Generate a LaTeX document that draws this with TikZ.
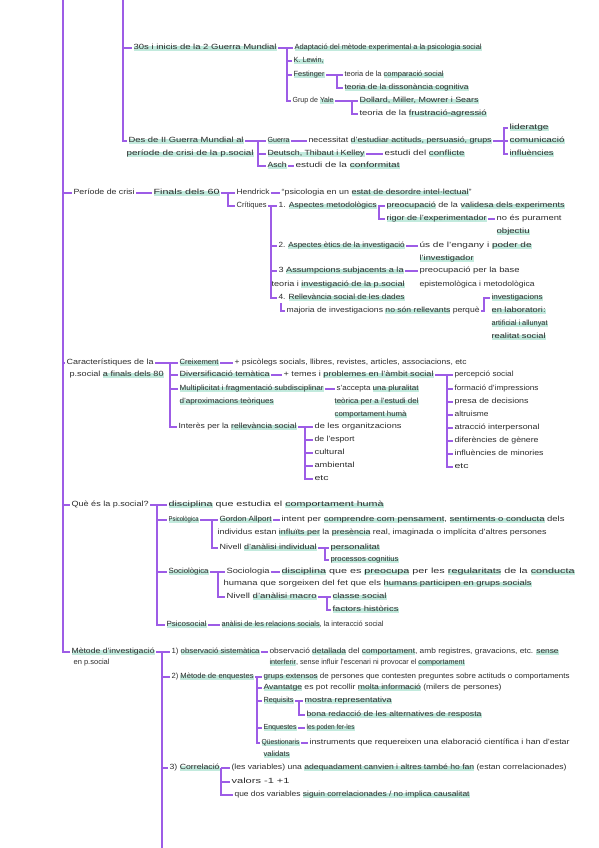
\documentclass[tikz,border=0pt]{standalone}
\usepackage{fontspec}
\setmainfont{Liberation Sans}
\usepackage{graphicx}
\definecolor{lp}{RGB}{157,92,230}
\definecolor{mint}{RGB}{194,234,221}
\definecolor{ink}{RGB}{45,45,45}
\newcommand\hl[1]{\setbox0\hbox{#1}\rlap{\textcolor{mint}{\rule[-1pt]{\wd0}{5pt}}}\box0\relax}
\newcommand\fw[2]{\setbox2\hbox{#2}\pgfmathsetmacro\rx{#1/\wd2}\pgfmathsetmacro\ry{min(1,\rx^0.3)}\scalebox{\rx}[\ry]{\box2}}
\tikzset{
 txt/.style={anchor=west,inner sep=0.4pt,outer sep=1.2pt,text height=5.4pt,text depth=1.6pt,font=\fontsize{7.5}{8}\selectfont,text=ink},
 ln/.style={draw=lp,line width=1.2pt},
 tr/.style={draw=lp,line width=1.5pt}
}
\newcommand\N[5]{\node[txt] (#1) at (#2,#3) {\fw{#4}{#5}};}
\begin{document}
\begin{tikzpicture}[x=1pt,y=-1pt]
\useasboundingbox[fill=white] (0,0) rectangle (599,848);
% ---------- section A ----------
\N{A1}{132}{48}{143}{\hl{30s i inicis de la 2 Guerra Mundial}}
\N{A11}{293}{48}{187}{\hl{Adaptació del mètode experimental a la psicologia social}}
\N{A12}{292}{61}{30}{\hl{K. Lewin,}}
\N{A13}{292}{75}{31}{\hl{Festinger}}
\N{A131}{343}{75}{99}{teoria de la \hl{comparació social}}
\N{A132}{343}{88}{124}{\hl{teoria de la dissonància cognitiva}}
\N{A14}{291}{101}{41}{Grup de \hl{Yale}}
\N{A141}{358}{101}{119}{\hl{Dollard, Miller, Mowrer i Sears}}
\N{A142}{358}{114}{127}{teoria de la \hl{frustració-agressió}}
\N{A2}{127}{141}{115}{\hl{Des de II Guerra Mundial al}}
\N{A2b}{125}{154}{127}{\hl{període de crisi de la p.social}}
\N{A21}{266}{141}{22}{\hl{Guerra}}
\N{A21a}{307}{141}{183}{necessitat \hl{d'estudiar actituds, persuasió, grups}}
\N{L1}{508}{128}{39}{\hl{lideratge}}
\N{L2}{508}{141}{55}{\hl{comunicació}}
\N{L3}{508}{154}{44}{\hl{influències}}
\N{A22}{266}{154}{97}{\hl{Deutsch, Thibaut i Kelley}}
\N{A22a}{383}{154}{80}{estudi del \hl{conflicte}}
\N{A23}{266}{166}{19}{\hl{Asch}}
\N{A23a}{294}{166}{104}{estudi de la \hl{conformitat}}
% ---------- section B ----------
\N{B}{72}{193}{61}{Període de crisi}
\N{B1}{152}{193}{66}{\hl{Finals dels 60}}
\N{B11}{235}{193}{33}{Hendrick}
\N{B11a}{280}{193}{190}{“psicologia en un \hl{estat de desordre intel·lectual}”}
\N{B12}{235}{206}{30}{Crítiques}
\N{B121}{277}{206}{98}{1. \hl{Aspectes metodològics}}
\N{B121a}{385}{206}{178}{\hl{preocupació} de la \hl{validesa dels experiments}}
\N{B121b}{385}{219}{100}{\hl{rigor de l'experimentador}}
\N{B121c}{495}{219}{65}{no és purament}
\N{B121d}{495}{232}{33}{\hl{objectiu}}
\N{B122}{277}{246}{126}{2. \hl{Aspectes ètics de la investigació}}
\N{B122a}{418}{246}{112}{ús de l'engany i \hl{poder de}}
\N{B122b}{418}{259}{54}{\hl{l'investigador}}
\N{B123}{277}{271}{125}{3 \hl{Assumpcions subjacents a la}}
\N{B123b}{270}{285}{133}{teoria i \hl{investigació de la p.social}}
\N{B123a}{418}{271}{100}{preocupació per la base}
\N{B123c}{418}{285}{115}{epistemològica i metodològica}
\N{B124}{277}{298}{126}{4. \hl{Rellevància social de les dades}}
\N{B124a}{285}{311}{193}{majoria de investigacions \hl{no són rellevants} perquè}
\N{B124b}{490}{298}{51}{\hl{investigacions}}
\N{B124c}{490}{311}{54}{\hl{en laboratori:}}
\N{B124d}{490}{324}{56}{\hl{artificial i allunyat}}
\N{B124e}{490}{337}{54}{\hl{realitat social}}
% ---------- section C ----------
\N{C}{65}{363}{87}{Característiques de la}
\N{C2l}{68}{375}{94}{p.social \hl{a finals dels 80}}
\N{C1}{178}{363}{39}{\hl{Creixement}}
\N{C1a}{233}{363}{232}{+ psicòlegs socials, llibres, revistes, articles, associacions, etc}
\N{C2}{178}{375}{90}{\hl{Diversificació temàtica}}
\N{C2a}{282}{375}{150}{+ temes i \hl{problemes en l'àmbit social}}
\N{P1}{453}{375}{59}{percepció social}
\N{P2}{453}{389}{84}{formació d'impressions}
\N{P3}{453}{402}{74}{presa de decisions}
\N{P4}{453}{415}{34}{altruisme}
\N{P5}{453}{428}{85}{atracció interpersonal}
\N{P6}{453}{441}{84}{diferències de gènere}
\N{P7}{453}{454}{89}{influències de minories}
\N{P8}{453}{467}{14}{etc}
\N{C3}{178}{389}{144}{\hl{Multiplicitat i fragmentació subdisciplinar}}
\N{C3b}{178}{402}{94}{\hl{d'aproximacions teòriques}}
\N{C3a}{335}{389}{82}{s'accepta \hl{una pluralitat}}
\N{C3c}{333}{402}{84}{\hl{teòrica per a l'estudi del}}
\N{C3d}{333}{415}{72}{\hl{comportament humà}}
\N{C4}{177}{427}{118}{Interès per la \hl{rellevància social}}
\N{Q1}{313}{427}{87}{de les organitzacions}
\N{Q2}{313}{440}{40}{de l'esport}
\N{Q3}{313}{453}{30}{cultural}
\N{Q4}{313}{466}{40}{ambiental}
\N{Q5}{313}{479}{14}{etc}
% ---------- section D ----------
\N{D}{70}{505}{77}{Què és la p.social?}
\N{D1}{167}{505}{215}{\hl{disciplina} que estudia el \hl{comportament humà}}
\N{D2}{167}{520}{30}{\hl{Psicològica}}
\N{D21}{218}{520}{52}{\hl{Gordon Allport}}
\N{D21a}{280}{520}{283}{intent per \hl{comprendre com pensament}, \hl{sentiments o conducta} dels}
\N{D21b}{216}{533}{329}{individus estan \hl{influïts per} la \hl{presència} real, imaginada o implícita d'altres persones}
\N{D22}{218}{548}{97}{Nivell \hl{d'anàlisi individual}}
\N{R1}{329}{548}{49}{\hl{personalitat}}
\N{R2}{329}{560}{68}{\hl{processos cognitius}}
\N{D3}{167}{572}{40}{\hl{Sociològica}}
\N{D31}{225}{572}{43}{Sociologia}
\N{D31a}{280}{572}{293}{\hl{disciplina} que es \hl{preocupa} per les \hl{regularitats} de la \hl{conducta}}
\N{D31b}{222}{584}{308}{humana que sorgeixen del fet que els \hl{humans participen en grups socials}}
\N{D32}{225}{597}{90}{Nivell \hl{d'anàlisi macro}}
\N{S1}{331}{597}{54}{\hl{classe social}}
\N{S2}{331}{610}{66}{\hl{factors històrics}}
\N{D4}{165}{625}{40}{\hl{Psicosocial}}
\N{D4a}{220}{625}{162}{\hl{anàlisi de les relacions socials}, la interacció social}
% ---------- section E ----------
\N{E}{70}{652}{83}{\hl{Mètode d'investigació}}
\N{E2l}{72}{663}{36}{en p.social}
\N{E1}{170}{652}{88}{1) \hl{observació sistemàtica}}
\N{E1a}{268}{652}{289}{observació \hl{detallada} del \hl{comportament}, amb registres, gravacions, etc. \hl{sense}}
\N{E1b}{268}{663}{195}{\hl{interferir}, sense influir l'escenari ni provocar el \hl{comportament}}
\N{E2}{170}{677}{82}{2) \hl{Mètode de enquestes}}
\N{E21}{262}{677}{306}{\hl{grups extensos} de persones que contesten preguntes sobre actituds o comportaments}
\N{E22}{262}{688}{238}{\hl{Avantatge} es pot recollir \hl{molta informació} (milers de persones)}
\N{E23}{262}{701}{30}{\hl{Requisits}}
\N{U1}{303}{701}{87}{\hl{mostra representativa}}
\N{U2}{305}{715}{175}{\hl{bona redacció de les alternatives de resposta}}
\N{E24}{262}{728}{33}{\hl{Enquestes}}
\N{E24a}{305}{728}{48}{\hl{les poden fer-les}}
\N{E25}{260}{743}{38}{\hl{Qüestionaris}}
\N{E25a}{308}{743}{260}{instruments que requereixen una elaboració científica i han d'estar}
\N{E25b}{262}{755}{26}{\hl{validats}}
\N{E3}{168}{768}{50}{3) \hl{Correlació}}
\N{E31}{230}{768}{335}{(les variables) una \hl{adequadament canvien i altres també ho fan} (estan correlacionades)}
\N{E32}{230}{782}{58}{valors -1 +1}
\N{E33}{233}{795}{235}{que dos variables \hl{siguin correlacionades / no implica causalitat}}
% ---------- connectors ----------
\coordinate (T0) at (63,0);
\coordinate (S0) at (123,0);
\foreach \c in {B,C,D,E} \draw[tr] (T0) |- (\c.west);
\foreach \c in {A1,A2} \draw[tr] (S0) |- (\c.west);
% A
\coordinate (a1) at (287,48);
\draw[ln] (A1.east) -- (a1);
\foreach \c in {A11,A12,A13,A14} \draw[ln] (a1) |- (\c.west);
\coordinate (a13) at (337,75);
\draw[ln] (A13.east) -- (a13);
\foreach \c in {A131,A132} \draw[ln] (a13) |- (\c.west);
\coordinate (a14) at (352,101);
\draw[ln] (A14.east) -- (a14);
\foreach \c in {A141,A142} \draw[ln] (a14) |- (\c.west);
\coordinate (a2) at (258,141);
\draw[ln] (A2.east) -- (a2);
\foreach \c in {A21,A22,A23} \draw[ln] (a2) |- (\c.west);
\draw[ln] (A21.east) -- (A21a.west);
\coordinate (a21) at (504,141);
\draw[ln] (A21a.east) -- (a21);
\foreach \c in {L1,L2,L3} \draw[ln] (a21) |- (\c.west);
\draw[ln] (A22.east) -- (A22a.west);
\draw[ln] (A23.east) -- (A23a.west);
% B
\draw[ln] (B.east) -- (B1.west);
\coordinate (b1) at (228,193);
\draw[ln] (B1.east) -- (b1);
\foreach \c in {B11,B12} \draw[ln] (b1) |- (\c.west);
\draw[ln] (B11.east) -- (B11a.west);
\coordinate (b12) at (271,206);
\draw[ln] (B12.east) -- (b12);
\foreach \c in {B121,B122,B123,B124} \draw[ln] (b12) |- (\c.west);
\coordinate (b121) at (379,206);
\draw[ln] (B121.east) -- (b121);
\foreach \c in {B121a,B121b} \draw[ln] (b121) |- (\c.west);
\draw[ln] (B121b.east) -- (B121c.west);
\draw[ln] (B122.east) -- (B122a.west);
\draw[ln] (B123.east) -- (B123a.west);
\draw[ln] ([xshift=4pt]B124.south west) |- (B124a.west);
\coordinate (b124) at (484,298);
\draw[ln] (B124a.east) -| (b124) -- (B124b.west);
% C
\coordinate (c0) at (170,363);
\draw[ln] (C.east) -- (c0);
\foreach \c in {C1,C2,C3,C4} \draw[ln] (c0) |- (\c.west);
\draw[ln] (C1.east) -- (C1a.west);
\draw[ln] (C2.east) -- (C2a.west);
\coordinate (c2) at (447,375);
\draw[ln] (C2a.east) -- (c2);
\foreach \c in {P1,P2,P3,P4,P5,P6,P7,P8} \draw[ln] (c2) |- (\c.west);
\draw[ln] (C3.east) -- (C3a.west);
\coordinate (c4) at (305,427);
\draw[ln] (C4.east) -- (c4);
\foreach \c in {Q1,Q2,Q3,Q4,Q5} \draw[ln] (c4) |- (\c.west);
% D
\coordinate (d0) at (157,505);
\draw[ln] (D.east) -- (d0);
\foreach \c in {D1,D2,D3,D4} \draw[ln] (d0) |- (\c.west);
\coordinate (d2) at (212,520);
\draw[ln] (D2.east) -- (d2);
\foreach \c in {D21,D22} \draw[ln] (d2) |- (\c.west);
\draw[ln] (D21.east) -- (D21a.west);
\coordinate (d22) at (325,548);
\draw[ln] (D22.east) -- (d22);
\foreach \c in {R1,R2} \draw[ln] (d22) |- (\c.west);
\coordinate (d3) at (218,572);
\draw[ln] (D3.east) -- (d3);
\foreach \c in {D31,D32} \draw[ln] (d3) |- (\c.west);
\draw[ln] (D31.east) -- (D31a.west);
\coordinate (d32) at (327,597);
\draw[ln] (D32.east) -- (d32);
\foreach \c in {S1,S2} \draw[ln] (d32) |- (\c.west);
\draw[ln] (D4.east) -- (D4a.west);
% E
\coordinate (e0) at (162,652);
\coordinate (eend) at (162,848);
\draw[tr] (E.east) -- (e0) -- (eend);
\foreach \c in {E1,E2,E3} \draw[tr] (e0) |- (\c.west);
\draw[ln] (E1.east) -- (E1a.west);
\coordinate (e2) at (257,677);
\draw[ln] (E2.east) -- (e2);
\foreach \c in {E21,E22,E23,E24,E25} \draw[ln] (e2) |- (\c.west);
\coordinate (e23) at (299,701);
\draw[ln] (E23.east) -- (e23);
\foreach \c in {U1,U2} \draw[ln] (e23) |- (\c.west);
\draw[ln] (E24.east) -- (E24a.west);
\draw[ln] (E25.east) -- (E25a.west);
\coordinate (e3) at (221,768);
\draw[ln] (E3.east) -- (e3);
\foreach \c in {E31,E32,E33} \draw[ln] (e3) |- (\c.west);
\end{tikzpicture}
\end{document}
